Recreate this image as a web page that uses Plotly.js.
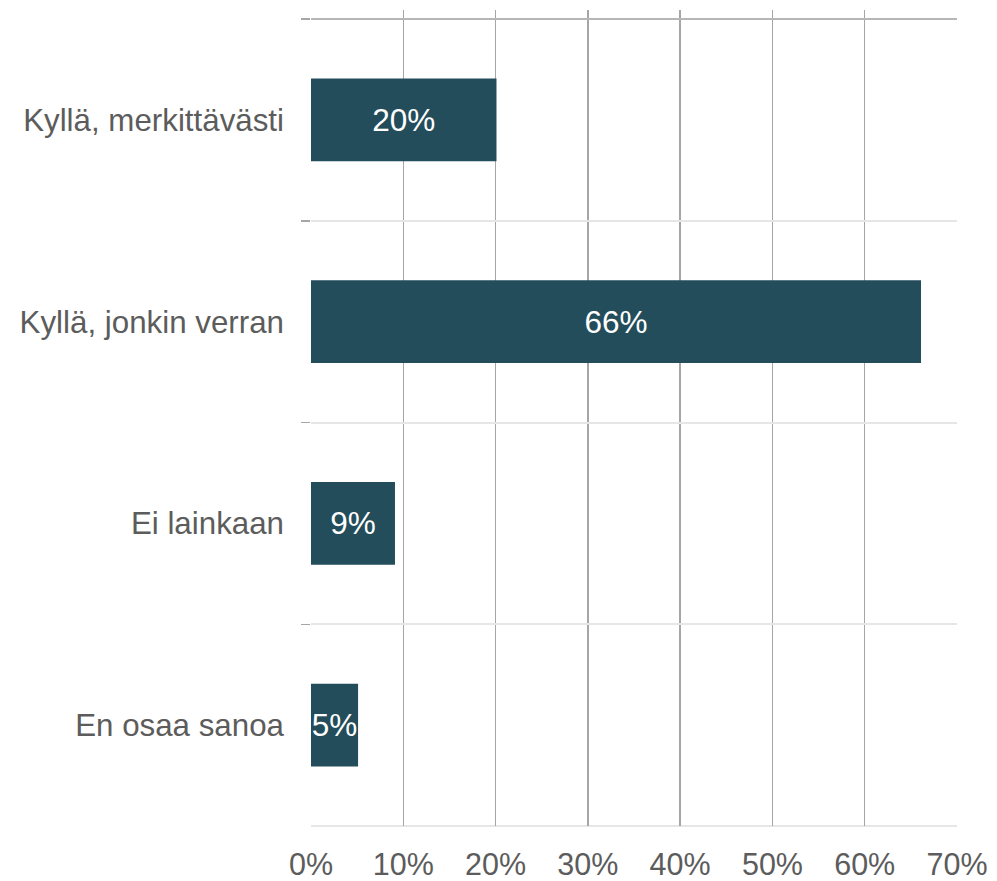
<!DOCTYPE html>
<html>
<head>
<meta charset="utf-8">
<script src="https://cdn.plot.ly/plotly-3.0.1.min.js"></script>
<style>html,body{margin:0;padding:0;background:#fff;}#chart{width:997px;height:881px;}</style>
</head>
<body>
<div id="chart"></div>
<script>
const categories = ["Kyllä, merkittävästi", "Kyllä, jonkin verran", "Ei lainkaan", "En osaa sanoa"];
const values = [0.201, 0.661, 0.091, 0.051];
const barLabels = ["20%", "66%", "9%", "5%"];
const xTickVals = [0, 0.1, 0.2, 0.3, 0.4, 0.5, 0.6, 0.7];
const xTickText = ["0%", "10%", "20%", "30%", "40%", "50%", "60%", "70%"];

const FONT = "Liberation Sans, Arial, sans-serif";
const trace = {
  type: "bar",
  orientation: "h",
  x: values,
  y: categories,
  text: barLabels,
  textposition: "inside",
  insidetextanchor: "middle",
  constraintext: "none",
  textangle: 0,
  textfont: {family: FONT, size: 31.5, color: "#ffffff"},
  marker: {color: "#234D5B", line: {width: 0}},
  hoverinfo: "none"
};

const layout = {
  width: 997,
  height: 881,
  margin: {l: 311, r: 40, t: 10, b: 55},
  paper_bgcolor: "#ffffff",
  plot_bgcolor: "#ffffff",
  showlegend: false,
  bargap: 0.59,
  font: {family: FONT, size: 30, color: "#5c5c5c"},
  xaxis: {
    range: [0, 0.7],
    tickvals: xTickVals,
    ticktext: xTickText,
    showgrid: true,
    gridcolor: "#a6a6a6",
    gridwidth: 1.5,
    zeroline: false,
    showline: false,
    ticks: "",
    ticklabelstandoff: 17,
    tickfont: {family: FONT, size: 30.5, color: "#5c5c5c"},
    fixedrange: true
  },
  yaxis: {
    type: "category",
    range: [3.5, -0.545],
    tickson: "boundaries",
    ticks: "outside",
    ticklen: 9,
    tickwidth: 1.5,
    tickcolor: "#a6a6a6",
    showgrid: true,
    gridcolor: "#e6e6e6",
    gridwidth: 2,
    zeroline: false,
    showline: false,
    ticklabelstandoff: 26,
    tickfont: {family: FONT, size: 31.3, color: "#5c5c5c"},
    fixedrange: true
  },
  shapes: [
    {type: "line", xref: "paper", yref: "y", x0: 0, x1: 1, y0: -0.5, y1: -0.5,
     line: {color: "#a6a6a6", width: 1.5}, layer: "above"},
    {type: "line", xref: "paper", yref: "paper", x0: 0, x1: 1, y0: 0, y1: 0,
     line: {color: "#e6e6e6", width: 2}, layer: "below"}
  ]
};

Plotly.newPlot("chart", [trace], layout, {displayModeBar: false, staticPlot: true});
</script>
</body>
</html>
